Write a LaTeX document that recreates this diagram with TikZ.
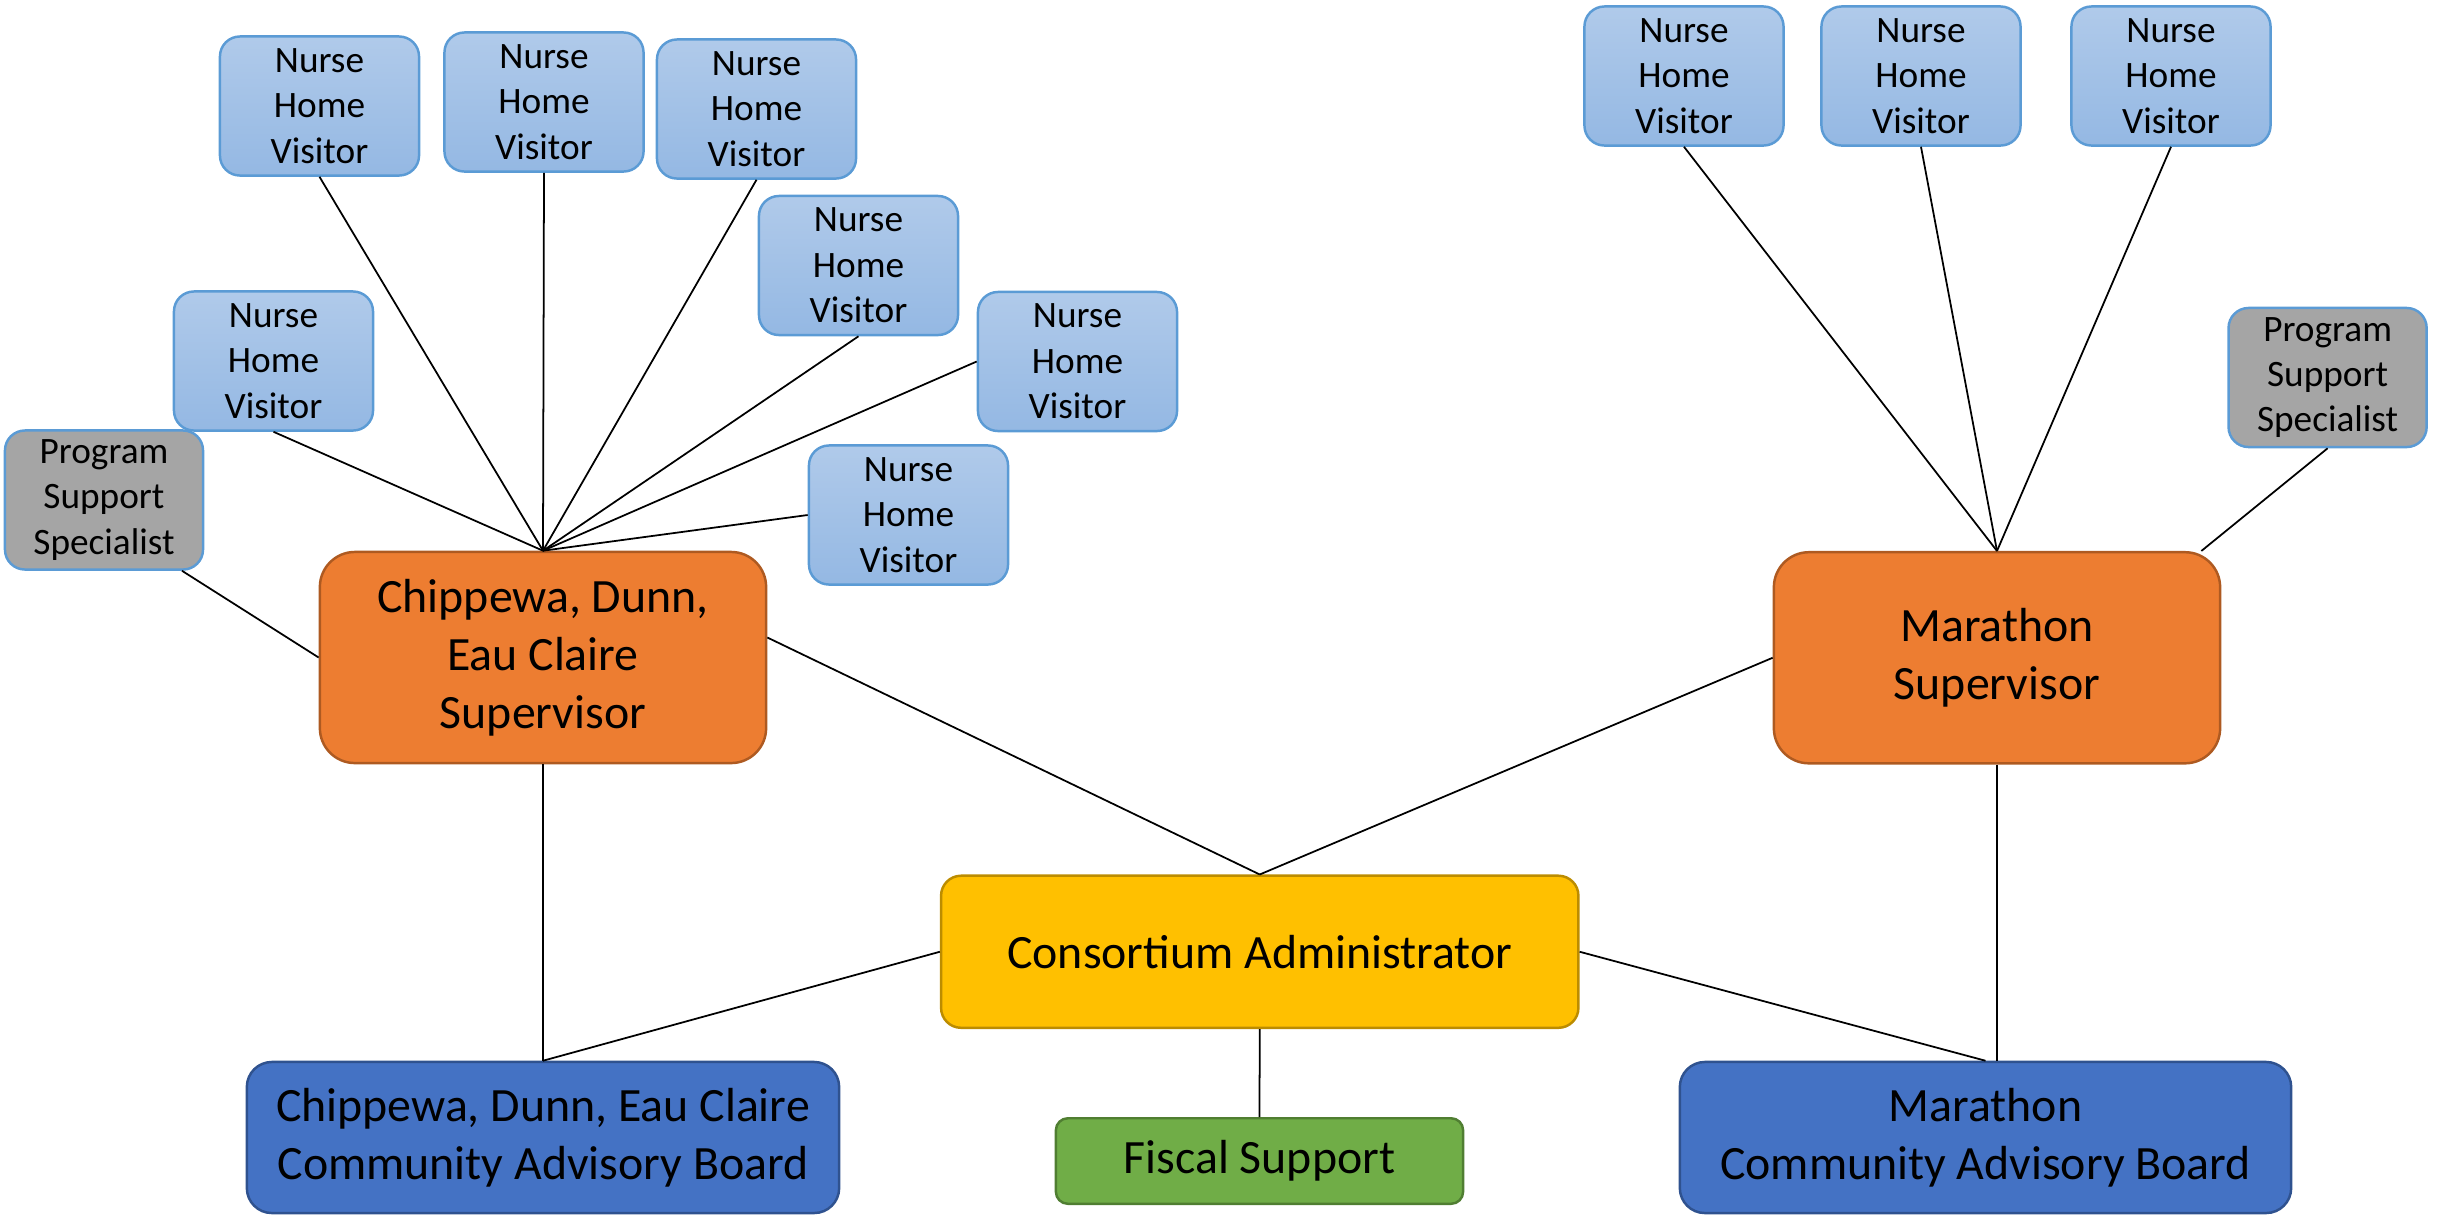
\documentclass[tikz,border=0pt]{standalone}
\usepackage{fontspec}
\setmainfont{Carlito}
\usetikzlibrary{calc}
\definecolor{nhvtop}{RGB}{176,202,234}
\definecolor{nhvbot}{RGB}{148,184,227}
\definecolor{nhvline}{RGB}{91,155,213}
\definecolor{pssfill}{RGB}{165,165,165}
\definecolor{orfill}{RGB}{237,125,49}
\definecolor{orline}{RGB}{174,90,33}
\definecolor{yefill}{RGB}{255,192,0}
\definecolor{yeline}{RGB}{188,140,0}
\definecolor{blfill}{RGB}{68,114,196}
\definecolor{blline}{RGB}{47,82,143}
\definecolor{grfill}{RGB}{112,173,71}
\definecolor{grline}{RGB}{80,126,50}
\tikzset{
  box/.style={rectangle, align=center, inner sep=0pt, line width=0.7pt, text=black},
  nhv/.style={box, draw=nhvline, top color=nhvtop, bottom color=nhvbot, rounded corners=0.2cm,
    minimum width=1.99cm, minimum height=1.39cm, font=\fontsize{10.6}{12.9}\selectfont},
  pss/.style={box, draw=nhvline, fill=pssfill, rounded corners=0.2cm,
    minimum width=1.98cm, minimum height=1.39cm, font=\fontsize{10.6}{12.9}\selectfont},
  sup/.style={box, draw=orline, fill=orfill, rounded corners=0.35cm,
    minimum width=4.46cm, minimum height=2.11cm, font=\fontsize{13.6}{16.5}\selectfont},
  adm/.style={box, draw=yeline, fill=yefill, rounded corners=0.2cm,
    minimum width=6.37cm, minimum height=1.52cm, font=\fontsize{13.6}{16.5}\selectfont},
  brd/.style={box, draw=blline, fill=blfill, rounded corners=0.25cm,
    minimum height=1.51cm, font=\fontsize{13.6}{16.5}\selectfont},
  fis/.style={box, draw=grline, fill=grfill, rounded corners=0.12cm,
    minimum width=4.07cm, minimum height=0.855cm, font=\fontsize{13.6}{16.5}\selectfont},
  conn/.style={draw=black, line width=0.5pt}
}
\begin{document}
\begin{tikzpicture}[x=0.01cm, y=-0.01cm]
\useasboundingbox (0,0) rectangle (2438,1214);
% left nurse home visitors
\node[nhv] (l1) at (319.5,106) {Nurse\\Home\\Visitor};
\node[nhv] (l2) at (544,102) {Nurse\\Home\\Visitor};
\node[nhv] (l3) at (756.5,109) {Nurse\\Home\\Visitor};
\node[nhv] (l4) at (858.5,265.5) {Nurse\\Home\\Visitor};
\node[nhv] (l5) at (273.5,361) {Nurse\\Home\\Visitor};
\node[nhv] (l6) at (1077.5,361.5) {Nurse\\Home\\Visitor};
\node[nhv] (l7) at (908.5,515) {Nurse\\Home\\Visitor};
\node[pss] (lpss) at (104,500) {Program\\Support\\Specialist};
% right nurse home visitors
\node[nhv] (r1) at (1684,76) {Nurse\\Home\\Visitor};
\node[nhv] (r2) at (1921,76) {Nurse\\Home\\Visitor};
\node[nhv] (r3) at (2171,76) {Nurse\\Home\\Visitor};
\node[pss] (rpss) at (2327.6,377.5) {Program\\Support\\Specialist};
% supervisors
\node[sup] (lsup) at (543,657.5) {Chippewa, Dunn,\\Eau Claire\\Supervisor};
\node[sup] (rsup) at (1997,657.75) {Marathon\\Supervisor};
% administrator
\node[adm] (cons) at (1259.75,951.75) {Consortium Administrator};
% boards
\node[brd, minimum width=5.92cm] (lbrd) at (543,1137.5) {Chippewa, Dunn, Eau Claire\\Community Advisory Board};
\node[brd, minimum width=6.11cm] (rbrd) at (1985.5,1137.5) {Marathon\\Community Advisory Board};
\node[fis] (fis) at (1259.5,1161) {Fiscal Support};
% connectors
\foreach \n in {l1,l2,l3,l4,l5} \draw[conn] (\n.south) -- (lsup.north);
\foreach \n in {l6,l7} \draw[conn] (\n.west) -- (lsup.north);
\draw[conn] ($(lpss.south)+(78,0)$) -- (lsup.west);
\foreach \n in {r1,r2,r3} \draw[conn] (\n.south) -- (rsup.north);
\draw[conn] (rpss.south) -- ($(rsup.north east)+(-20,0)$);
\draw[conn] ($(lsup.east)+(0,-20)$) -- (cons.north);
\draw[conn] (rsup.west) -- (cons.north);
\draw[conn] (cons.west) -- (lbrd.north);
\draw[conn] (cons.east) -- (rbrd.north);
\draw[conn] (lsup.south) -- (lbrd.north);
\draw[conn] (rsup.south) -- (rsup.south |- rbrd.north);
\draw[conn] (cons.south) -- (fis.north);
\end{tikzpicture}
\end{document}
